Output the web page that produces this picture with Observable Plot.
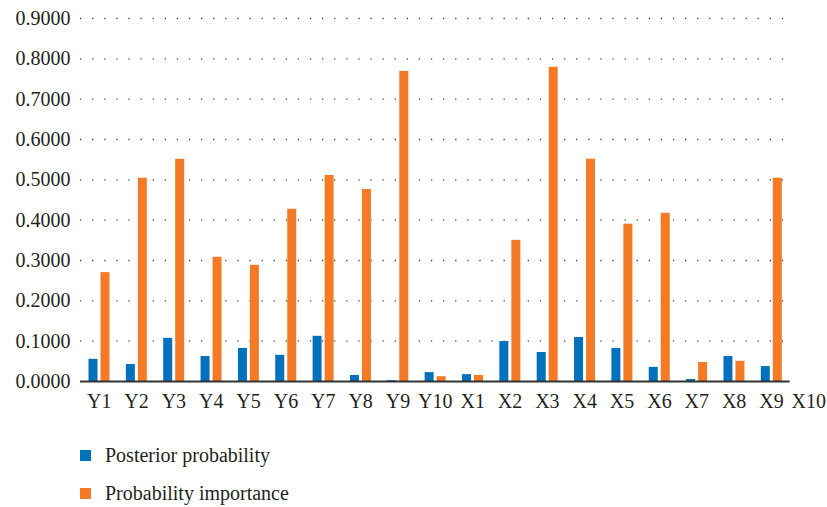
<!DOCTYPE html>
<html>
<head>
<meta charset="utf-8">
<script src="https://cdn.jsdelivr.net/npm/d3@7"></script>
<script src="https://cdn.jsdelivr.net/npm/@observablehq/plot@0.6"></script>
<style>
  html, body { margin: 0; padding: 0; background: #fff; }
  #chart { width: 827px; }
  .legend { font-family: "Liberation Serif", "DejaVu Serif", serif; font-size: 20px; color: #231f20; padding-left: 80px; margin-top: 11px; }
  .legend .item { display: flex; align-items: center; height: 38px; }
  .legend .sw { width: 11px; height: 11px; margin-right: 14px; }
</style>
</head>
<body>
<div id="chart"></div>
<script>
const categories = ["Y1","Y2","Y3","Y4","Y5","Y6","Y7","Y8","Y9","Y10","X1","X2","X3","X4","X5","X6","X7","X8","X9","X10"];
const posterior = [0.055,0.042,0.107,0.062,0.082,0.065,0.112,0.015,0.002,0.022,0.017,0.099,0.072,0.109,0.082,0.035,0.005,0.062,0.037,null];
const importance = [0.270,0.504,0.551,0.308,0.288,0.427,0.511,0.476,0.769,0.012,0.015,0.350,0.779,0.551,0.390,0.417,0.047,0.050,0.504,null];
const yTicks = [0,0.1,0.2,0.3,0.4,0.5,0.6,0.7,0.8,0.9];
const seriesNames = ["Posterior probability","Probability importance"];
const colors = ["#0071bc","#f47a25"];

const rows = [];
categories.forEach((c, i) => {
  if (posterior[i] != null) rows.push({cat: c, series: seriesNames[0], v: posterior[i]});
  if (importance[i] != null) rows.push({cat: c, series: seriesNames[1], v: importance[i]});
});

const W = 827, ML = 80, MR = 0;
const bw = (W - ML - MR) / categories.length;
const barW = 9;
const firstCat = categories[0];
const lastShown = categories[categories.length - 2];
const gridRows = yTicks.map(t => ({y: t, a: firstCat, b: lastShown}));

const chart = Plot.plot({
  width: W,
  height: 425,
  marginLeft: ML,
  marginRight: MR,
  marginTop: 18,
  marginBottom: 44,
  style: {fontFamily: "'Liberation Serif', 'DejaVu Serif', serif", fontSize: "20px", color: "#231f20", background: "#fff"},
  x: {domain: categories, padding: 0, round: false, label: null, tickSize: 0, tickPadding: 12},
  y: {domain: [0, 0.9], ticks: yTicks, tickFormat: d3.format(".4f"), label: null, tickSize: 0, tickPadding: 10},
  color: {domain: seriesNames, range: colors},
  marks: [
    Plot.ruleY(gridRows.slice(1), {y: "y", x1: "a", x2: "b", stroke: "#444", strokeWidth: 1.3, strokeDasharray: "1.3 10.8"}),
    Plot.barY(rows.filter(d => d.series === seriesNames[0]), {x: "cat", y: "v", fill: "series", insetLeft: 8.5, insetRight: bw - 8.5 - barW}),
    Plot.barY(rows.filter(d => d.series === seriesNames[1]), {x: "cat", y: "v", fill: "series", insetLeft: 20.5, insetRight: bw - 20.5 - barW}),
    Plot.ruleY(gridRows.slice(0, 1), {y: "y", x1: "a", x2: "b", stroke: "#333", strokeWidth: 2})
  ]
});
document.getElementById("chart").appendChild(chart);

const legend = document.createElement("div");
legend.className = "legend";
seriesNames.forEach((s, i) => {
  const item = document.createElement("div");
  item.className = "item";
  const sw = document.createElement("span");
  sw.className = "sw";
  sw.style.background = colors[i];
  const t = document.createElement("span");
  t.textContent = s;
  item.appendChild(sw);
  item.appendChild(t);
  legend.appendChild(item);
});
document.getElementById("chart").appendChild(legend);
</script>
</body>
</html>
